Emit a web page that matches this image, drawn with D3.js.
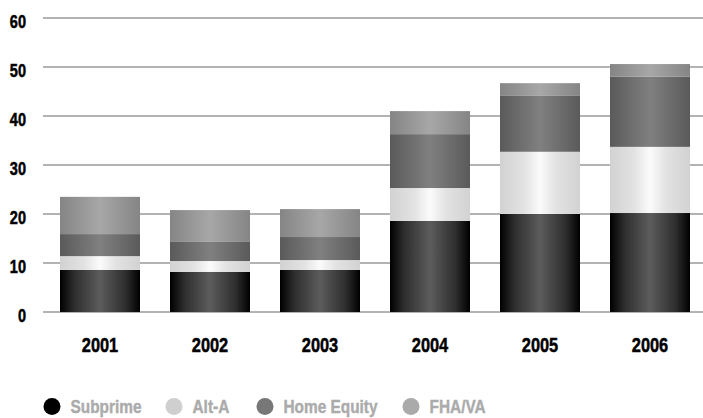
<!DOCTYPE html>
<html>
<head>
<meta charset="utf-8">
<script src="https://cdn.jsdelivr.net/npm/d3@7/dist/d3.min.js"></script>
<style>
  html, body { margin: 0; padding: 0; background: #fff; }
  svg text { font-family: "Liberation Sans", Arial, sans-serif; font-weight: bold; }
</style>
</head>
<body>
<svg id="chart" width="703" height="418"></svg>
<script>
const years = ["2001", "2002", "2003", "2004", "2005", "2006"];
const seriesNames = ["Subprime", "Alt-A", "Home Equity", "FHA/VA"];
const subprime   = [8.6, 8.2, 8.6, 18.6, 20.0, 20.2];
const altA       = [2.8, 2.2, 2.0, 6.7, 12.7, 13.5];
const homeEquity = [4.5, 3.9, 4.7, 11.0, 11.4, 14.3];
const fhaVa      = [7.6, 6.5, 5.7, 4.7, 2.6, 2.6];
const yTicks = [0, 10, 20, 30, 40, 50, 60];

const gradStops = [
  [["0%", "#000"], ["18%", "#2e2e2e"], ["50%", "#5c5c5c"], ["82%", "#2e2e2e"], ["100%", "#000"]],
  [["0%", "#d2d2d2"], ["30%", "#e2e2e2"], ["50%", "#fbfbfb"], ["70%", "#e2e2e2"], ["100%", "#d2d2d2"]],
  [["0%", "#5a5a5a"], ["50%", "#808080"], ["100%", "#5a5a5a"]],
  [["0%", "#858585"], ["50%", "#a7a7a7"], ["100%", "#858585"]]
];
const legendColors = ["#000", "#cfcfcf", "#777", "#aaa"];
const FONT = '"Liberation Sans", Arial, sans-serif';

const svg = d3.select("#chart");
const data = years.map((y, i) => ({ year: y, "Subprime": subprime[i], "Alt-A": altA[i], "Home Equity": homeEquity[i], "FHA/VA": fhaVa[i] }));
const stacked = d3.stack().keys(seriesNames)(data);

const x = d3.scaleBand().domain(years).range([45, 705]).paddingInner(30/110).paddingOuter(15/110);
const y = d3.scaleLinear().domain([0, 60]).range([312, 18]);

const defs = svg.append("defs");
gradStops.forEach((stops, k) => {
  const g = defs.append("linearGradient").attr("id", "g" + k).attr("x1", "0%").attr("x2", "100%").attr("y1", "0%").attr("y2", "0%");
  stops.forEach(s => g.append("stop").attr("offset", s[0]).attr("stop-color", s[1]));
});

// grid
svg.append("g").selectAll("line").data(yTicks).join("line")
  .attr("x1", 43).attr("x2", 703)
  .attr("y1", d => y(d)).attr("y2", d => y(d))
  .attr("stroke", "#b3b3b3").attr("stroke-width", 2);

// y labels
const yAxis = svg.append("g").attr("transform", "translate(26,0)")
  .call(d3.axisLeft(y).tickValues(yTicks).tickSize(0).tickPadding(0));
yAxis.select(".domain").remove();
yAxis.selectAll("text").attr("font-size", 17.7).attr("fill", "#000").attr("x", 0).attr("dy", "0.55em")
  .attr("transform", "scale(0.82,1)")
  .attr("stroke", "#000").attr("stroke-width", 0.5)
  .style("font-family", FONT).style("font-weight", "bold");

// bars
svg.append("g").selectAll("g").data(stacked).join("g")
  .attr("fill", (d, i) => `url(#g${i})`)
  .selectAll("rect").data(d => d).join("rect")
  .attr("x", d => x(d.data.year))
  .attr("width", x.bandwidth())
  .attr("y", d => y(d[1]))
  .attr("height", d => y(d[0]) - y(d[1]));

// x labels
const xAxis = svg.append("g").attr("transform", "translate(0,337)")
  .call(d3.axisBottom(x).tickSize(0).tickPadding(0));
xAxis.select(".domain").remove();
xAxis.selectAll("text").attr("font-size", 21).attr("fill", "#000").attr("y", 0).attr("dy", "0.71em")
  .attr("transform", "scale(0.78,1)")
  .attr("stroke", "#000").attr("stroke-width", 0.5)
  .style("font-family", FONT).style("font-weight", "bold");

// legend
const legendX = [52, 174, 265, 411];
const lg = svg.append("g").selectAll("g").data(seriesNames).join("g")
  .attr("transform", (d, i) => `translate(${legendX[i]},406.5)`);
lg.append("circle").attr("r", 8.5).attr("fill", (d, i) => legendColors[i]);
lg.append("text").attr("transform", "translate(18.5,6.5) scale(0.87,1)")
  .attr("font-size", 17.7).attr("fill", "#ababab")
  .attr("stroke", "#ababab").attr("stroke-width", 0.4)
  .text(d => d);
</script>
</body>
</html>
